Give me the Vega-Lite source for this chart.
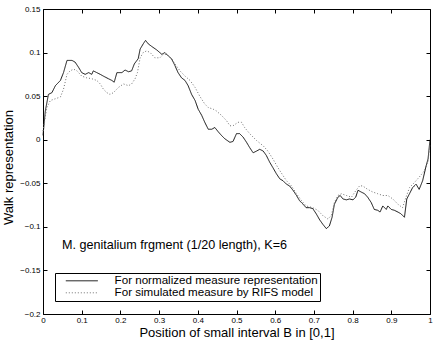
{
  "$schema": "https://vega.github.io/schema/vega-lite/v6.json",
  "width": 387,
  "height": 305,
  "autosize": {"type": "none"},
  "padding": {"left": 43, "top": 9, "right": 6, "bottom": 28},
  "background": "white",
  "datasets": {
    "normalized": [
      {"x":0,"y":0.005},{"x":0.006,"y":0.033},{"x":0.014,"y":0.052},{"x":0.023,"y":0.054},{"x":0.032,"y":0.062},{"x":0.045,"y":0.068},{"x":0.053,"y":0.077},{"x":0.062,"y":0.091},{"x":0.075,"y":0.091},{"x":0.083,"y":0.089},{"x":0.092,"y":0.083},{"x":0.1,"y":0.077},{"x":0.109,"y":0.075},{"x":0.118,"y":0.077},{"x":0.126,"y":0.075},{"x":0.13,"y":0.079},{"x":0.139,"y":0.077},{"x":0.148,"y":0.075},{"x":0.156,"y":0.073},{"x":0.169,"y":0.07},{"x":0.178,"y":0.068},{"x":0.184,"y":0.066},{"x":0.191,"y":0.077},{"x":0.204,"y":0.077},{"x":0.212,"y":0.08},{"x":0.221,"y":0.078},{"x":0.229,"y":0.079},{"x":0.236,"y":0.087},{"x":0.246,"y":0.093},{"x":0.251,"y":0.104},{"x":0.259,"y":0.11},{"x":0.265,"y":0.114},{"x":0.272,"y":0.11},{"x":0.281,"y":0.107},{"x":0.294,"y":0.103},{"x":0.307,"y":0.098},{"x":0.315,"y":0.1},{"x":0.324,"y":0.096},{"x":0.332,"y":0.093},{"x":0.341,"y":0.085},{"x":0.349,"y":0.077},{"x":0.358,"y":0.071},{"x":0.367,"y":0.068},{"x":0.375,"y":0.062},{"x":0.384,"y":0.052},{"x":0.393,"y":0.045},{"x":0.401,"y":0.035},{"x":0.41,"y":0.028},{"x":0.418,"y":0.02},{"x":0.427,"y":0.012},{"x":0.436,"y":0.012},{"x":0.444,"y":0.014},{"x":0.453,"y":0.009},{"x":0.461,"y":0.005},{"x":0.47,"y":0.001},{"x":0.483,"y":-0.003},{"x":0.491,"y":-0.002},{"x":0.5,"y":0.007},{"x":0.508,"y":0.007},{"x":0.517,"y":0.003},{"x":0.526,"y":-0.003},{"x":0.534,"y":-0.009},{"x":0.543,"y":-0.015},{"x":0.552,"y":-0.013},{"x":0.56,"y":-0.011},{"x":0.569,"y":-0.013},{"x":0.577,"y":-0.018},{"x":0.586,"y":-0.026},{"x":0.594,"y":-0.032},{"x":0.603,"y":-0.039},{"x":0.612,"y":-0.045},{"x":0.62,"y":-0.047},{"x":0.629,"y":-0.051},{"x":0.637,"y":-0.053},{"x":0.646,"y":-0.058},{"x":0.655,"y":-0.064},{"x":0.663,"y":-0.07},{"x":0.672,"y":-0.074},{"x":0.68,"y":-0.078},{"x":0.689,"y":-0.078},{"x":0.697,"y":-0.079},{"x":0.706,"y":-0.085},{"x":0.715,"y":-0.092},{"x":0.723,"y":-0.097},{"x":0.732,"y":-0.102},{"x":0.74,"y":-0.099},{"x":0.747,"y":-0.089},{"x":0.753,"y":-0.074},{"x":0.762,"y":-0.066},{"x":0.768,"y":-0.064},{"x":0.775,"y":-0.068},{"x":0.784,"y":-0.069},{"x":0.792,"y":-0.068},{"x":0.801,"y":-0.069},{"x":0.808,"y":-0.066},{"x":0.814,"y":-0.058},{"x":0.822,"y":-0.06},{"x":0.831,"y":-0.062},{"x":0.839,"y":-0.066},{"x":0.848,"y":-0.072},{"x":0.856,"y":-0.08},{"x":0.865,"y":-0.081},{"x":0.871,"y":-0.083},{"x":0.878,"y":-0.076},{"x":0.887,"y":-0.08},{"x":0.891,"y":-0.076},{"x":0.9,"y":-0.08},{"x":0.908,"y":-0.081},{"x":0.917,"y":-0.083},{"x":0.925,"y":-0.085},{"x":0.934,"y":-0.089},{"x":0.94,"y":-0.068},{"x":0.947,"y":-0.062},{"x":0.955,"y":-0.055},{"x":0.964,"y":-0.051},{"x":0.972,"y":-0.057},{"x":0.981,"y":-0.047},{"x":0.99,"y":-0.03},{"x":0.995,"y":-0.022},{"x":1,"y":0.0}
    ],
    "simulated": [
      {"x":0,"y":0.01},{"x":0.01,"y":0.037},{"x":0.019,"y":0.045},{"x":0.032,"y":0.047},{"x":0.045,"y":0.049},{"x":0.053,"y":0.058},{"x":0.062,"y":0.075},{"x":0.07,"y":0.079},{"x":0.079,"y":0.081},{"x":0.088,"y":0.079},{"x":0.1,"y":0.073},{"x":0.113,"y":0.071},{"x":0.126,"y":0.07},{"x":0.139,"y":0.068},{"x":0.148,"y":0.064},{"x":0.156,"y":0.058},{"x":0.165,"y":0.054},{"x":0.173,"y":0.052},{"x":0.182,"y":0.054},{"x":0.195,"y":0.06},{"x":0.208,"y":0.064},{"x":0.221,"y":0.062},{"x":0.229,"y":0.064},{"x":0.238,"y":0.07},{"x":0.244,"y":0.077},{"x":0.251,"y":0.094},{"x":0.259,"y":0.1},{"x":0.268,"y":0.102},{"x":0.277,"y":0.1},{"x":0.289,"y":0.094},{"x":0.302,"y":0.094},{"x":0.311,"y":0.098},{"x":0.32,"y":0.098},{"x":0.332,"y":0.093},{"x":0.341,"y":0.087},{"x":0.354,"y":0.079},{"x":0.367,"y":0.073},{"x":0.38,"y":0.068},{"x":0.393,"y":0.06},{"x":0.405,"y":0.05},{"x":0.418,"y":0.041},{"x":0.427,"y":0.037},{"x":0.44,"y":0.035},{"x":0.448,"y":0.033},{"x":0.461,"y":0.028},{"x":0.474,"y":0.022},{"x":0.483,"y":0.016},{"x":0.491,"y":0.016},{"x":0.504,"y":0.02},{"x":0.513,"y":0.02},{"x":0.521,"y":0.014},{"x":0.534,"y":0.007},{"x":0.552,"y":-0.001},{"x":0.569,"y":-0.007},{"x":0.581,"y":-0.013},{"x":0.594,"y":-0.022},{"x":0.607,"y":-0.032},{"x":0.62,"y":-0.041},{"x":0.629,"y":-0.047},{"x":0.642,"y":-0.053},{"x":0.655,"y":-0.062},{"x":0.668,"y":-0.07},{"x":0.68,"y":-0.076},{"x":0.697,"y":-0.078},{"x":0.71,"y":-0.081},{"x":0.723,"y":-0.087},{"x":0.736,"y":-0.091},{"x":0.745,"y":-0.087},{"x":0.753,"y":-0.072},{"x":0.762,"y":-0.064},{"x":0.771,"y":-0.062},{"x":0.784,"y":-0.064},{"x":0.797,"y":-0.066},{"x":0.809,"y":-0.058},{"x":0.818,"y":-0.053},{"x":0.826,"y":-0.053},{"x":0.839,"y":-0.057},{"x":0.852,"y":-0.06},{"x":0.865,"y":-0.062},{"x":0.878,"y":-0.064},{"x":0.891,"y":-0.064},{"x":0.904,"y":-0.068},{"x":0.917,"y":-0.074},{"x":0.929,"y":-0.078},{"x":0.938,"y":-0.066},{"x":0.947,"y":-0.055},{"x":0.96,"y":-0.049},{"x":0.972,"y":-0.043},{"x":0.985,"y":-0.036},{"x":0.995,"y":-0.025},{"x":1,"y":-0.005}
    ],
    "note": [
      {"x":0.049,"y":-0.1253,"t":"M. genitalium frgment (1/20 length), K=6"}
    ]
  },
  "layer": [
    {
      "data": {"name": "normalized"},
      "mark": {"type": "line", "strokeWidth": 1, "interpolate": "linear"},
      "encoding": {
        "x": {"field": "x", "type": "quantitative",
              "scale": {"domain": [0, 1], "nice": false, "zero": false},
              "axis": {"orient": "bottom", "values": [0,0.1,0.2,0.3,0.4,0.5,0.6,0.7,0.8,0.9,1], "format": "~g", "title": "Position of small interval B in [0,1]", "labelPadding": 6, "titlePadding": 2}},
        "y": {"field": "y", "type": "quantitative",
              "scale": {"domain": [-0.2, 0.15], "nice": false, "zero": false},
              "axis": {"orient": "left", "values": [-0.2,-0.15,-0.1,-0.05,0,0.05,0.1,0.15], "format": "~g", "title": "Walk representation", "labelPadding": 7, "titlePadding": 4, "titleY": 158}},
        "color": {"datum": "For normalized measure representation", "type": "nominal",
                  "scale": {"domain": ["For normalized measure representation", "For simulated measure by RIFS model"], "range": ["#111111", "#707070"]},
                  "legend": {"title": null}},
        "strokeDash": {"datum": "For normalized measure representation", "type": "nominal",
                  "scale": {"domain": ["For normalized measure representation", "For simulated measure by RIFS model"], "range": [[1,0],[1,2]]},
                  "legend": {"title": null}}
      }
    },
    {
      "data": {"name": "simulated"},
      "mark": {"type": "line", "strokeWidth": 1, "interpolate": "linear"},
      "encoding": {
        "x": {"field": "x", "type": "quantitative", "axis": null},
        "y": {"field": "y", "type": "quantitative", "axis": null},
        "color": {"datum": "For simulated measure by RIFS model", "type": "nominal"},
        "strokeDash": {"datum": "For simulated measure by RIFS model", "type": "nominal"}
      }
    },
    {
      "data": {"name": "note"},
      "mark": {"type": "text", "align": "left", "baseline": "alphabetic", "font": "Liberation Sans", "fontSize": 12.6, "color": "#000000"},
      "encoding": {
        "x": {"field": "x", "type": "quantitative",
              "axis": {"orient": "top", "values": [0,0.1,0.2,0.3,0.4,0.5,0.6,0.7,0.8,0.9,1], "labels": false, "title": null}},
        "y": {"field": "y", "type": "quantitative",
              "axis": {"orient": "right", "values": [-0.2,-0.15,-0.1,-0.05,0,0.05,0.1,0.15], "labels": false, "title": null}},
        "text": {"field": "t", "type": "nominal"}
      }
    }
  ],
  "resolve": {"axis": {"x": "independent", "y": "independent"}},
  "config": {
    "view": {"stroke": null},
    "axis": {
      "grid": false,
      "domainColor": "#000000",
      "domainWidth": 1,
      "tickColor": "#000000",
      "tickSize": -4,
      "tickWidth": 1,
      "labelColor": "#000000",
      "titleColor": "#000000",
      "labelFont": "Liberation Sans",
      "titleFont": "Liberation Sans",
      "labelFontSize": 8,
      "titleFontSize": 13,
      "titleFontWeight": "normal",
      "labelFlush": false,
      "labelOverlap": false
    },
    "legend": {
      "orient": "none",
      "legendX": 12,
      "legendY": 264,
      "strokeColor": "#000000",
      "fillColor": "#ffffff",
      "padding": 2,
      "symbolType": "M-8,0H8",
      "symbolSize": 16,
      "symbolStrokeWidth": 1,
      "symbolOffset": 19,
      "labelOffset": 27,
      "labelFont": "Liberation Sans",
      "labelFontSize": 11.6,
      "labelColor": "#000000",
      "labelLimit": 400,
      "rowPadding": -2
    }
  }
}
